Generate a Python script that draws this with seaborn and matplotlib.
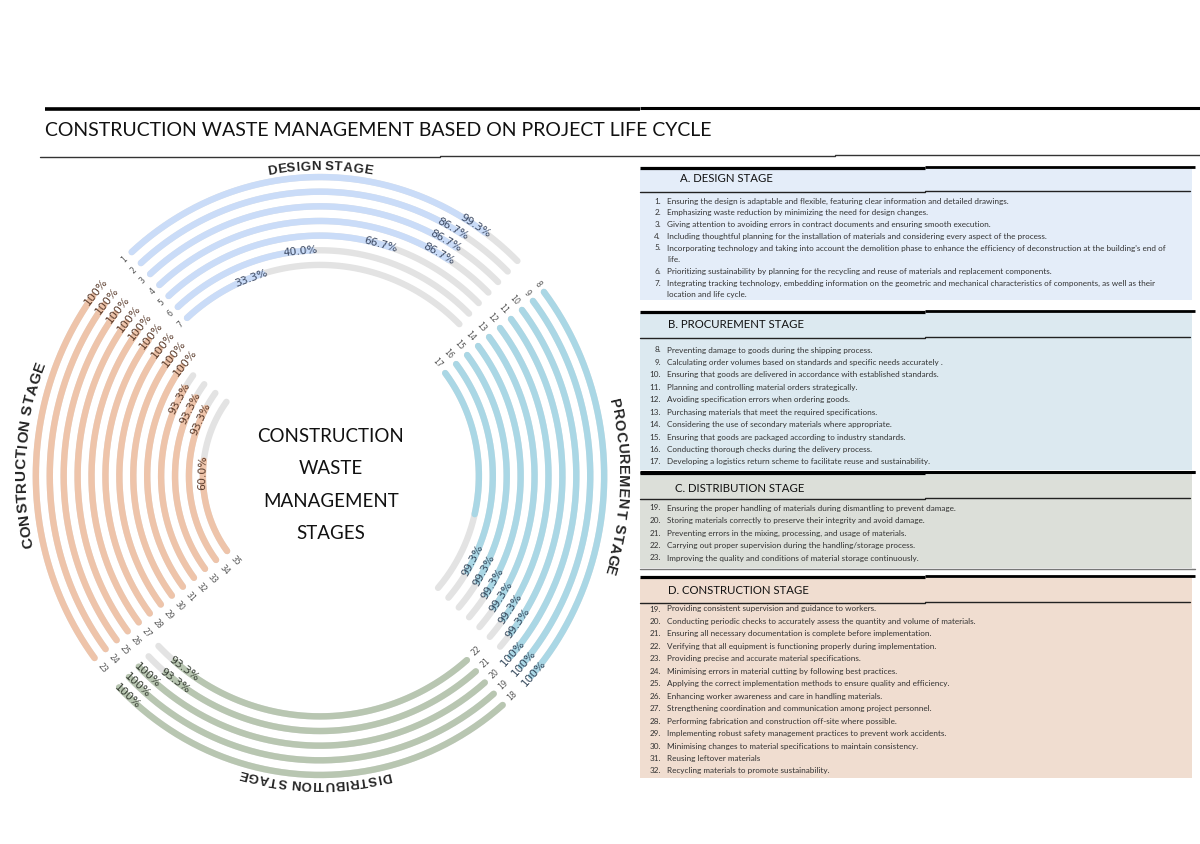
import numpy as np
import matplotlib
matplotlib.use("Agg")
import matplotlib.pyplot as plt
from matplotlib.patches import Rectangle
from matplotlib.font_manager import FontProperties
import seaborn as sns

# ------------------------------
# Values
# (fill = share of each grey track that is coloured)
# ------------------------------
DESIGN_IDS = [1, 2, 3, 4, 5, 6, 7]
DESIGN_PCT = [99.3, 86.7, 86.7, 86.7, 66.7, 40.0, 33.3]
DESIGN_FILL = [0.90, 0.86, 0.86, 0.86, 0.70, 0.46, 0.29]

PROCUREMENT_IDS = [8, 9, 10, 11, 12, 13, 14, 15, 16, 17]
PROCUREMENT_PCT = [100, 100, 100, 99.3, 99.3, 99.3, 99.3, 99.3, 99.3, None]
PROCUREMENT_FILL = [1.0, 1.0, 1.0, 0.95, 0.93, 0.92, 0.90, 0.88, 0.87, 0.64]

DISTRIBUTION_IDS = [18, 19, 20, 21, 22]
DISTRIBUTION_PCT = [100, 100, 100, 93.3, 93.3]
DISTRIBUTION_FILL = [1.0, 1.0, 1.0, 0.935, 0.935]

CONSTRUCTION_IDS = [23, 24, 25, 26, 27, 28, 29, 30, 31, 32, 33, 34, 35]
CONSTRUCTION_PCT = [100, 100, 100, 100, 100, 100, 100, 100, 100, 93.3, 93.3, 93.3, 60.0]
CONSTRUCTION_FILL = [1.0, 1.0, 1.0, 1.0, 1.0, 1.0, 1.0, 1.0, 1.0, 0.93, 0.92, 0.90, 0.60]

TITLE = "CONSTRUCTION WASTE MANAGEMENT BASED ON PROJECT LIFE CYCLE"
CENTER_TEXT = "CONSTRUCTION\nWASTE\nMANAGEMENT\nSTAGES"

A_NUMS = [1, 2, 3, 4, 5, 6, 7]
A_ITEMS = [
    "Ensuring the design is adaptable and flexible, featuring clear information and detailed drawings.",
    "Emphasizing waste reduction by minimizing the need for design changes.",
    "Giving attention to avoiding errors in contract documents and ensuring smooth execution.",
    "Including thoughtful planning for the installation of materials and considering every aspect of the process.",
    "Incorporating technology and taking into account the demolition phase to enhance the efficiency of deconstruction at the building's end of\nlife.",
    "Prioritizing sustainability by planning for the recycling and reuse of materials and replacement components.",
    "Integrating tracking technology, embedding information on the geometric and mechanical characteristics of components, as well as their\nlocation and life cycle.",
]
B_NUMS = [8, 9, 10, 11, 12, 13, 14, 15, 16, 17]
B_ITEMS = [
    "Preventing damage to goods during the shipping process.",
    "Calculating order volumes based on standards and specific needs accurately .",
    "Ensuring that goods are delivered in accordance with established standards.",
    "Planning and controlling material orders strategically.",
    "Avoiding specification errors when ordering goods.",
    "Purchasing materials that meet the required specifications.",
    "Considering the use of secondary materials where appropriate.",
    "Ensuring that goods are packaged according to industry standards.",
    "Conducting thorough checks during the delivery process.",
    "Developing a logistics return scheme to facilitate reuse and sustainability.",
]
C_NUMS = [19, 20, 21, 22, 23]
C_ITEMS = [
    "Ensuring the proper handling of materials during dismantling to prevent damage.",
    "Storing materials correctly to preserve their integrity and avoid damage.",
    "Preventing errors in the mixing, processing, and usage of materials.",
    "Carrying out proper supervision during the handling/storage process.",
    "Improving the quality and conditions of material storage continuously.",
]
D_NUMS = [19, 20, 21, 22, 23, 24, 25, 26, 27, 28, 29, 30, 31, 32]
D_ITEMS = [
    "Providing consistent supervision and guidance to workers.",
    "Conducting periodic checks to accurately assess the quantity and volume of materials.",
    "Ensuring all necessary documentation is complete before implementation.",
    "Verifying that all equipment is functioning properly during implementation.",
    "Providing precise and accurate material specifications.",
    "Minimising errors in material cutting by following best practices.",
    "Applying the correct implementation methods to ensure quality and efficiency.",
    "Enhancing worker awareness and care in handling materials.",
    "Strengthening coordination and communication among project personnel.",
    "Performing fabrication and construction off-site where possible.",
    "Implementing robust safety management practices to prevent work accidents.",
    "Minimising changes to material specifications to maintain consistency.",
    "Reusing leftover materials",
    "Recycling materials to promote sustainability.",
]

# ------------------------------
# Layout / style
# ------------------------------
W, H = 1200, 844
CX, CY = 320, 476          # chart centre (px)
RMAX = 330                 # polar r-limit
SX, SY = 0.96, 1.01        # px per r-unit, horizontal / vertical
R_OUT = 296
R_STEP = 14.5
ARC_LW = 4.6
LAB_BACK = 12              # px a partial label sits back from the fill end
TRACK = "#e3e3e3"
PANEL_FONT = "Lato"
STAGE_FONT = "Liberation Sans"

STAGES = [
    dict(ids=DESIGN_IDS, pct=DESIGN_PCT, fill=DESIGN_FILL, t0=131.5, t1=46,
         color="#cadcf8", lab="#3d4a63", title="DESIGN STAGE",
         tt=90, tr=306, ts=9.5, back100=0),
    dict(ids=PROCUREMENT_IDS, pct=PROCUREMENT_PCT, fill=PROCUREMENT_FILL, t0=38, t1=-42,
         color="#aad7e5", lab="#34485c", title="PROCUREMENT STAGE",
         tt=-2, tr=315, ts=10.5, back100=4),
    dict(ids=DISTRIBUTION_IDS, pct=DISTRIBUTION_PCT, fill=DISTRIBUTION_FILL, t0=-50, t1=-135,
         color="#b8c6b1", lab="#363d33", title="DISTRIBUTION STAGE",
         tt=-91, tr=305, ts=9.5, back100=12),
    dict(ids=CONSTRUCTION_IDS, pct=CONSTRUCTION_PCT, fill=CONSTRUCTION_FILL, t0=217.5, t1=143,
         color="#eec4aa", lab="#5a3b2b", title="CONSTRUCTION STAGE",
         tt=176, tr=311, ts=11, back100=-5),
]


def tangent_rot(t):
    return t - 90 if np.sin(np.radians(t)) >= 0 else t + 90


def px_scale(t):
    s = np.radians(t)
    return np.hypot(SX * np.sin(s), SY * np.cos(s))


def draw_arc(ax, t0, t1, r, color):
    th = np.radians(np.linspace(t0, t1, 150))
    sns.lineplot(x=th, y=np.full_like(th, r), ax=ax, color=color, linewidth=ARC_LW,
                 sort=False, estimator=None, solid_capstyle="round")


def curved_text(ax, renderer, text, tc, r, size):
    fp = FontProperties(family=STAGE_FONT, weight="bold", size=size)
    wfun = lambda s: renderer.get_text_width_height_descent(s, fp, ismath=False)[0]
    space = wfun("n n") - wfun("nn")
    widths = [space if ch == " " else wfun(ch) + 0.6 for ch in text]
    total = sum(widths)
    pos = 0.0
    for ch, w in zip(text, widths):
        c = pos + w / 2
        pos += w
        t = tc + np.degrees((total / 2 - c) / (r * px_scale(tc)))
        ax.text(np.radians(t), r, ch, fontproperties=fp, rotation=t - 90,
                rotation_mode="anchor", ha="center", va="center", clip_on=False)


def plot_rings(fig, renderer):
    ax = fig.add_axes([(CX - RMAX * SX) / W, (H - CY - RMAX * SY) / H,
                       2 * RMAX * SX / W, 2 * RMAX * SY / H], projection="polar")
    ax.set_aspect("auto")

    for st in STAGES:
        span = st["t1"] - st["t0"]
        sign = np.sign(span)
        for i, (num, pct, fr) in enumerate(zip(st["ids"], st["pct"], st["fill"])):
            r = R_OUT - i * R_STEP
            draw_arc(ax, st["t0"], st["t1"], r, TRACK)
            t_end = st["t0"] + fr * span
            draw_arc(ax, st["t0"], t_end, r, st["color"])

            if pct is not None:
                if pct == 100:
                    lab, back = "100%", st["back100"]
                else:
                    lab, back = f"{pct:.1f}%", LAB_BACK
                tl = t_end - sign * np.degrees(back / (r * px_scale(t_end)))
                ax.text(np.radians(tl), r, lab, fontsize=7.8, color=st["lab"],
                        rotation=tangent_rot(tl), rotation_mode="anchor",
                        ha="center", va="center", clip_on=False)

            off = np.degrees((7 + 3 * len(str(num))) / (r * px_scale(st["t0"])))
            tn = st["t0"] - sign * off
            ax.text(np.radians(tn), r, str(num), fontsize=5.6, color="#555555",
                    rotation=tangent_rot(tn), rotation_mode="anchor",
                    ha="center", va="center", clip_on=False)

        curved_text(ax, renderer, st["title"], st["tt"], st["tr"], st["ts"])

    ax.set_ylim(0, RMAX)
    ax.set_xlim(0, 2 * np.pi)
    ax.axis("off")
    return ax


def draw_panel(ax, top, bottom, sep, head_y, head_x, title, color, nums, items,
               first_y, step):
    ax.add_patch(Rectangle((640, top), 552, bottom - top, color=color, lw=0, zorder=0))
    ax.plot([640, 925], [top - 1, top - 1], color="black", lw=2.3, solid_capstyle="butt")
    ax.plot([925, 1195], [top - 2, top - 2], color="black", lw=2.0, solid_capstyle="butt")
    ax.plot([640, 925], [sep + 0.5, sep + 0.5], color="#222222", lw=1.0)
    ax.plot([925, 1190], [sep - 0.5, sep - 0.5], color="#222222", lw=1.0)
    ax.text(head_x, head_y, title, fontsize=8.2, family=PANEL_FONT, va="center", color="#111111")
    y = first_y
    for n, txt in zip(nums, items):
        ax.text(661, y, f"{n}.", fontsize=5.9, family=PANEL_FONT, ha="right", va="center", color="#333333")
        for line in txt.split("\n"):
            ax.text(667, y, line, fontsize=5.9, family=PANEL_FONT, va="center", color="#333333")
            y += step


def plot_page(fig):
    ax = fig.add_axes([0, 0, 1, 1])
    ax.set_xlim(0, W)
    ax.set_ylim(H, 0)
    ax.axis("off")

    # header rules and title
    ax.plot([45, 640], [109, 109], color="black", lw=2.6, solid_capstyle="butt")
    ax.plot([640, 1200], [107.5, 107.5], color="black", lw=2.2, solid_capstyle="butt")
    ax.text(45, 131, TITLE, fontsize=14, family=PANEL_FONT, va="center", color="#111111")
    ax.plot([40, 440], [156.5, 156.5], color="#333333", lw=1.0)
    ax.plot([440, 835], [155.5, 155.5], color="#333333", lw=1.0)
    ax.plot([835, 1200], [154.5, 154.5], color="#333333", lw=1.0)

    ax.text(331, 485, CENTER_TEXT, fontsize=13.5, family=PANEL_FONT, ha="center", va="center",
            linespacing=2.1, color="#111111")

    draw_panel(ax, 169, 300, 191, 179, 680, "A. DESIGN STAGE", "#e4edf9",
               A_NUMS, A_ITEMS, 201, 11.75)
    draw_panel(ax, 313, 470, 337, 325, 668, "B. PROCUREMENT STAGE", "#dce9f0",
               B_NUMS, B_ITEMS, 350, 12.44)
    ax.plot([640, 1195], [472, 472], color="black", lw=2.2, solid_capstyle="butt")
    draw_panel(ax, 474, 568, 498, 488, 675, "C. DISTRIBUTION STAGE", "#dcdfd9",
               C_NUMS, C_ITEMS, 508, 12.5)
    ax.plot([640, 1195], [569, 569], color="#777777", lw=1.0)
    draw_panel(ax, 578, 778, 602, 590, 668, "D. CONSTRUCTION STAGE", "#f0ddd0",
               D_NUMS, D_ITEMS, 609, 12.46)
    return ax


def main():
    sns.set_theme(style="white")
    plt.rcParams["font.family"] = ["DejaVu Sans"]
    fig = plt.figure(figsize=(W / 100, H / 100), dpi=100)
    fig.patch.set_facecolor("white")
    renderer = fig.canvas.get_renderer()
    plot_page(fig)
    plot_rings(fig, renderer)
    fig.savefig("out.png", dpi=100)


if __name__ == "__main__":
    main()
